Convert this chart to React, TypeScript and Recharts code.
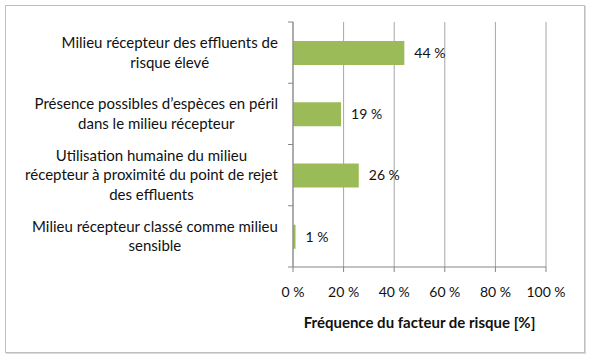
import React from "react";
import { Bar, BarChart, CartesianGrid, LabelList, XAxis, YAxis } from "recharts";

// categories (line breaks as in the original labels)
const categories = [
  ["Milieu récepteur des effluents de", "risque élevé"],
  ["Présence possibles d’espèces en péril", "dans le milieu récepteur"],
  ["Utilisation humaine du milieu", "récepteur à proximité du point de rejet", "des effluents"],
  ["Milieu récepteur classé comme milieu", "sensible"]
];
const frequencies = [44, 19, 26, 1];
const xTicks = [0, 20, 40, 60, 80, 100];

const data = categories.map((lines, i) => ({
  name: lines.join("\n"),
  value: frequencies[i]
}));

const FONT = "Lato, 'Open Sans', sans-serif";
const AXIS = "#868686";
const LABEL_SIZE = 15;

let ctx: CanvasRenderingContext2D | null = null;
const textWidth = (s: string) => {
  if (!ctx) ctx = document.createElement("canvas").getContext("2d");
  if (!ctx) return s.length * 7;
  ctx.font = `${LABEL_SIZE}px Lato`;
  return ctx.measureText(s).width;
};

// label block: lines centred on each other, block right-aligned near the axis
const CategoryTick = (props: any) => {
  const { x, y, payload, index } = props;
  const lines: string[] = String(payload.value).split("\n");
  const half = payload.offset ?? 30.6;
  const lh = 19.5;
  const y0 = y - ((lines.length - 1) * lh) / 2;
  const blockW = Math.max(...lines.map(textWidth));
  const cx = x - 15 - blockW / 2;
  return (
    <g>
      <line x1={x - 5} x2={x} y1={y - half} y2={y - half} stroke={AXIS} />
      {index === categories.length - 1 && (
        <line x1={x - 5} x2={x} y1={y + half} y2={y + half} stroke={AXIS} />
      )}
      <text x={cx} y={y0} textAnchor="middle" fontSize={LABEL_SIZE} fill="#111" fontFamily={FONT}>
        {lines.map((l, i) => (
          <tspan key={i} x={cx} y={y0 + i * lh} dy="0.35em">
            {l}
          </tspan>
        ))}
      </text>
    </g>
  );
};

export default function App() {
  return (
    <div style={{ position: "absolute", left: 0, top: 0, width: 590, height: 358, background: "#fff" }}>
      <div
        style={{
          position: "absolute",
          left: 5,
          top: 5,
          width: 578,
          height: 346,
          border: "1px solid #bfbfbf",
          boxShadow: "1px 1px 0 #d9d9d9"
        }}
      />
      <BarChart
        width={590}
        height={358}
        data={data}
        layout="vertical"
        margin={{ top: 22, right: 44, bottom: 21, left: 0 }}
        barSize={24}
        style={{ position: "absolute", left: 0, top: 0 }}
      >
        <CartesianGrid horizontal={false} stroke="#a6a6a6" />
        <XAxis
          type="number"
          domain={[0, 100]}
          ticks={xTicks}
          tickFormatter={v => `${v} %`}
          stroke={AXIS}
          tickSize={5}
          tickMargin={15}
          height={70}
          tick={{ fill: "#111", fontSize: 14, fontFamily: FONT }}
          label={{
            value: "Fréquence du facteur de risque [%]",
            position: "insideBottom",
            offset: 9,
            fill: "#111",
            fontSize: 15,
            fontWeight: 700,
            fontFamily: FONT
          }}
        />
        <YAxis
          type="category"
          dataKey="name"
          width={293}
          stroke={AXIS}
          tickLine={false}
          tickSize={0}
          tickMargin={0}
          tick={<CategoryTick />}
          interval={0}
        />
        <Bar dataKey="value" fill="#9bbb59" isAnimationActive={false}>
          <LabelList
            dataKey="value"
            position="right"
            offset={10}
            formatter={(v: any) => `${v} %`}
            fill="#111"
            fontSize={14}
            fontFamily={FONT}
          />
        </Bar>
      </BarChart>
    </div>
  );
}
